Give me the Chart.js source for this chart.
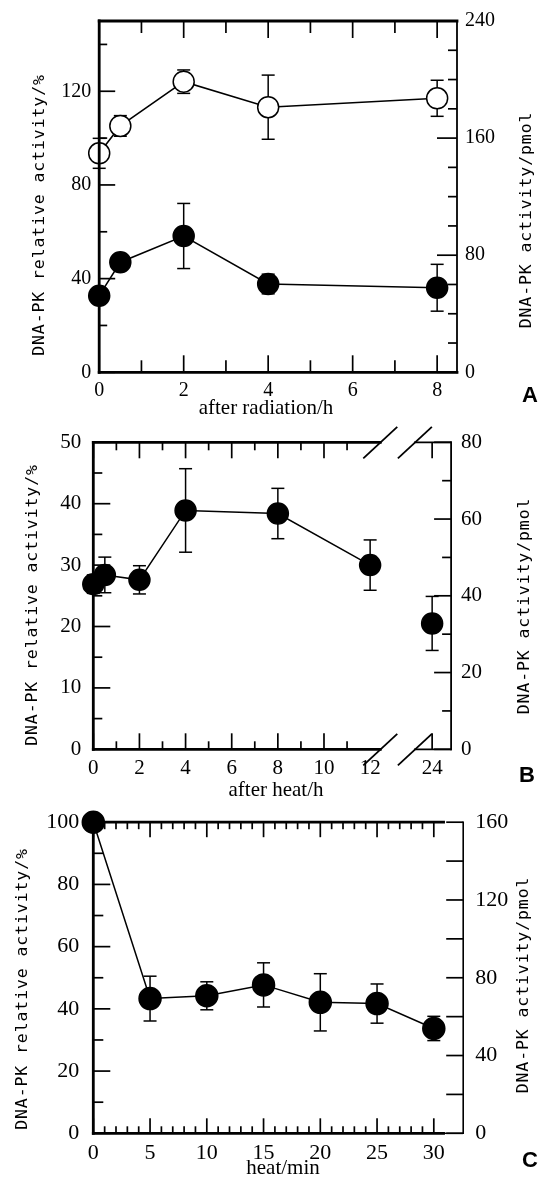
<!DOCTYPE html>
<html>
<head>
<meta charset="utf-8">
<script src="https://cdn.jsdelivr.net/npm/chart.js@4.4.1/dist/chart.umd.min.js"></script>
<style>
html, body { margin: 0; padding: 0; background: #fff; }
#wrap { position: relative; width: 542px; height: 1181px; overflow: hidden; }
canvas { position: absolute; left: 0; }
</style>
</head>
<body>
<div id="wrap">
  <canvas id="cA" width="542" height="425" style="top:0px"></canvas>
  <canvas id="cB" width="542" height="390" style="top:415px"></canvas>
  <canvas id="cC" width="542" height="386" style="top:795px"></canvas>
</div>
<script>
// ---------------- DATA ----------------
// A: after radiation (h)
const hoursA = [0, 0.5, 2, 4, 8];
const openA = [93.5, 105.2, 124.1, 113.2, 117.0];
const openErrA = [6.4, 4.4, 5.0, 13.7, 7.7];
const filledA = [32.7, 47.0, 58.2, 37.7, 36.1];
const filledErrA = [2.5, 2.5, 13.9, 4.2, 10.0];
const xTicksA = [0, 1, 2, 3, 4, 5, 6, 7, 8];
const xLabelsA = ['0', '', '2', '', '4', '', '6', '', '8'];
const yTicksA = [0, 20, 40, 60, 80, 100, 120, 140];
const yLabelsA = ['0', '', '40', '', '80', '', '120', ''];
const y2TicksA = [0, 20, 40, 60, 80, 100, 120, 140, 160, 180, 200, 220, 240];
const y2LabelsA = ['0', '', '', '', '80', '', '', '', '160', '', '', '', '240'];

// B: after heat (h), broken axis between 12 and 24
const hoursB = [0, 0.5, 2, 4, 8, 12, 24];
const valuesB = [26.9, 28.4, 27.6, 38.9, 38.4, 30.0, 20.5];
const errB = [1.5, 2.9, 2.3, 6.8, 4.1, 4.1, 4.4];
const xTicksB = [0, 1, 2, 3, 4, 5, 6, 7, 8, 9, 10, 11, 12, 24];
const xLabelsB = ['0', '', '2', '', '4', '', '6', '', '8', '', '10', '', '12', '24'];
const yTicksB = [0, 5, 10, 15, 20, 25, 30, 35, 40, 45, 50];
const yLabelsB = ['0', '', '10', '', '20', '', '30', '', '40', '', '50'];
const y2TicksB = [0, 10, 20, 30, 40, 50, 60, 70, 80];
const y2LabelsB = ['0', '', '20', '', '40', '', '60', '', '80'];

// C: heat (min)
const minutesC = [0, 5, 10, 15, 20, 25, 30];
const valuesC = [100, 43.3, 44.2, 47.7, 42.1, 41.7, 33.7];
const errC = [0, 7.2, 4.5, 7.1, 9.2, 6.3, 3.9];
const xTicksC = Array.from({ length: 31 }, (_, i) => i);
const xLabelsC = xTicksC.map(v => v % 5 === 0 ? String(v) : '');
const yTicksC = [0, 10, 20, 30, 40, 50, 60, 70, 80, 90, 100];
const yLabelsC = ['0', '', '20', '', '40', '', '60', '', '80', '', '100'];
const y2TicksC = [0, 20, 40, 60, 80, 100, 120, 140, 160];
const y2LabelsC = ['0', '', '40', '', '80', '', '120', '', '160'];

// ---------------- HELPERS ----------------
const SERIF = '"Liberation Serif", "Times New Roman", serif';
const MONO = '"DejaVu Sans Mono", monospace';
const LEFT_T = 'DNA-PK relative activity/%';
const RIGHT_T = 'DNA-PK activity/pmol';
const TITLE_FONT = '16.5px ' + MONO;
const TITLE_LS = '0.9px';
const LETTER_FONT = 'bold 22px "Liberation Sans", Arial, sans-serif';

// broken x axis: 12..24 squeezed
const brk = h => h <= 12 ? h : 12 + (h - 12) * 0.224;

function line(ctx, x1, y1, x2, y2, w) {
  ctx.lineWidth = w;
  ctx.beginPath();
  ctx.moveTo(x1, y1);
  ctx.lineTo(x2, y2);
  ctx.stroke();
}

function pts(xs, ys, map) {
  return xs.map((x, i) => ({ x: map ? map(x) : x, y: ys[i] }));
}

function series(data, err, fill, r) {
  return {
    data: data, err: err,
    borderColor: '#000', borderWidth: 1.5, tension: 0,
    pointRadius: r, pointHoverRadius: r,
    pointBackgroundColor: fill, pointBorderColor: '#000', pointBorderWidth: 1.5,
    clip: false, yAxisID: 'y'
  };
}

function framePlugin(spec) {
  return {
    id: 'frame',
    beforeDatasetsDraw(chart) {
      // error bars
      const ctx = chart.ctx, ys = chart.scales.y;
      ctx.save();
      ctx.strokeStyle = '#000';
      chart.data.datasets.forEach((ds, di) => {
        const meta = chart.getDatasetMeta(di);
        meta.data.forEach((el, i) => {
          const e = ds.err[i];
          if (!e) return;
          const v = ds.data[i].y;
          const t = ys.getPixelForValue(v + e), b = ys.getPixelForValue(v - e);
          line(ctx, el.x, t, el.x, b, 1.5);
          line(ctx, el.x - 6.5, t, el.x + 6.5, t, 1.5);
          line(ctx, el.x - 6.5, b, el.x + 6.5, b, 1.5);
        });
      });
      ctx.restore();
    },
    afterDraw(chart) {
      const ctx = chart.ctx, a = chart.chartArea;
      const { x, y, y2 } = chart.scales;
      ctx.save();
      ctx.strokeStyle = '#000';
      ctx.lineCap = 'square';
      spec.frame(ctx, a, x);

      ctx.lineCap = 'butt';
      // x ticks, top and bottom, inward
      spec.xTicks.forEach((v, i) => {
        if (spec.xSkip && spec.xSkip.includes(v)) return;
        const px = x.getPixelForValue(spec.xMap ? spec.xMap(v) : v);
        const l = spec.xLabels[i] !== '' ? spec.xLen[0] : spec.xLen[1];
        line(ctx, px, a.bottom, px, a.bottom - l, 1.7);
        line(ctx, px, a.top, px, a.top + l, 1.7);
      });
      // left y ticks
      spec.yTicks.forEach((v, i) => {
        const py = y.getPixelForValue(v);
        const l = spec.yLabels[i] !== '' ? spec.yLen[0] : spec.yLen[1];
        line(ctx, a.left, py, a.left + l, py, 1.7);
      });
      // right y ticks
      spec.y2Ticks.forEach((v, i) => {
        const py = y2.getPixelForValue(v);
        const l = spec.y2Labels[i] !== '' ? spec.y2Len[0] : spec.y2Len[1];
        line(ctx, a.right, py, a.right - l, py, 1.7);
      });

      // texts
      ctx.fillStyle = '#000';
      spec.texts.forEach(t => {
        ctx.save();
        ctx.font = t.font;
        ctx.letterSpacing = t.ls || '0px';
        ctx.textAlign = 'center';
        ctx.textBaseline = 'middle';
        ctx.translate(t.x, t.y);
        if (t.rot) ctx.rotate(t.rot);
        ctx.fillText(t.t, 0, 0);
        ctx.restore();
      });
      ctx.restore();
    }
  };
}

function panel(id, spec) {
  const tickFont = { family: SERIF, size: spec.fs };
  const yScale = (ticks, labels, max, pos, width, pad) => ({
    type: 'linear', position: pos, min: 0, max: max,
    grid: { display: false, drawTicks: false }, border: { display: false },
    afterBuildTicks: s => { s.ticks = ticks.map(v => ({ value: v })); },
    afterFit: s => { s.width = width; },
    ticks: {
      autoSkip: false, padding: pad, font: tickFont, color: '#000',
      callback: (v, i) => labels[i]
    }
  });
  return new Chart(document.getElementById(id), {
    type: 'line',
    data: { datasets: spec.datasets },
    options: {
      responsive: false, animation: false, events: [],
      layout: { padding: { top: spec.top, left: 0, right: 0, bottom: 0 } },
      plugins: { legend: { display: false }, tooltip: { enabled: false } },
      scales: {
        x: {
          type: 'linear', min: 0, max: spec.xMax,
          grid: { display: false, drawTicks: false }, border: { display: false },
          afterBuildTicks: s => { s.ticks = spec.xTicks.map(v => ({ value: spec.xMap ? spec.xMap(v) : v })); },
          afterFit: s => { s.height = spec.xH; },
          ticks: {
            autoSkip: false, maxRotation: 0, padding: spec.xPad, font: tickFont, color: '#000',
            callback: (v, i) => spec.xLabels[i]
          }
        },
        y: yScale(spec.yTicks, spec.yLabels, spec.yMax, 'left', spec.yW, spec.yPad),
        y2: yScale(spec.y2Ticks, spec.y2Labels, spec.y2Max, 'right', spec.y2W, spec.y2Pad)
      }
    },
    plugins: [framePlugin(spec)]
  });
}

// ---------------- PANEL A ----------------
panel('cA', {
  datasets: [
    series(pts(hoursA, filledA), filledErrA, '#000', 10.5),
    series(pts(hoursA, openA), openErrA, '#fff', 10.5)
  ],
  top: 21, xH: 52.7, yW: 99.2, y2W: 85, fs: 20,
  xMax: 8.47, yMax: 150, y2Max: 240, xPad: 6, yPad: 8, y2Pad: 8,
  xTicks: xTicksA, xLabels: xLabelsA, xLen: [17, 12],
  yTicks: yTicksA, yLabels: yLabelsA, yLen: [16, 8],
  y2Ticks: y2TicksA, y2Labels: y2LabelsA, y2Len: [20, 9],
  frame(ctx, a) {
    line(ctx, a.left, a.top, a.right, a.top, 2.8);
    line(ctx, a.left, a.bottom, a.right, a.bottom, 2.8);
    line(ctx, a.left, a.top, a.left, a.bottom, 2.8);
    line(ctx, a.right, a.top, a.right, a.bottom, 1.8);
  },
  texts: [
    { t: LEFT_T, x: 40, y: 215, rot: -Math.PI / 2, font: TITLE_FONT, ls: TITLE_LS },
    { t: RIGHT_T, x: 527, y: 220, rot: -Math.PI / 2, font: TITLE_FONT, ls: TITLE_LS },
    { t: 'after radiation/h', x: 266, y: 408, font: '21px ' + SERIF },
    { t: 'A', x: 530, y: 396, font: LETTER_FONT }
  ]
});

// ---------------- PANEL B ----------------
const breaksB = [12.44, 13.94];
panel('cB', {
  datasets: [
    Object.assign(series(pts(hoursB, valuesB, brk), errB, '#000', 10.5), {
      segment: { borderColor: c => c.p1.parsed.x > 12 ? 'rgba(0,0,0,0)' : '#000' }
    })
  ],
  top: 27.3, xH: 55.7, yW: 93.3, y2W: 90.9, fs: 21,
  xMax: 15.51, yMax: 50, y2Max: 80, xPad: 7, yPad: 12, y2Pad: 10,
  xTicks: xTicksB, xLabels: xLabelsB, xMap: brk, xSkip: [12], xLen: [16, 8],
  yTicks: yTicksB, yLabels: yLabelsB, yLen: [17, 9],
  y2Ticks: y2TicksB, y2Labels: y2LabelsB, y2Len: [17, 9],
  frame(ctx, a, x) {
    const b1 = x.getPixelForValue(breaksB[0]), b2 = x.getPixelForValue(breaksB[1]);
    line(ctx, a.left, a.top, a.left, a.bottom, 2.8);
    line(ctx, a.right, a.top, a.right, a.bottom, 1.8);
    [a.top, a.bottom].forEach(yy => {
      line(ctx, a.left, yy, b1, yy, 2.8);
      line(ctx, b2, yy, a.right, yy, 1.8);
      ctx.lineCap = 'butt';
      [b1, b2].forEach(bx => line(ctx, bx - 17, yy + 16, bx + 17, yy - 15.5, 1.8));
      ctx.lineCap = 'square';
    });
  },
  texts: [
    { t: LEFT_T, x: 33, y: 190, rot: -Math.PI / 2, font: TITLE_FONT, ls: TITLE_LS },
    { t: RIGHT_T, x: 525, y: 191, rot: -Math.PI / 2, font: TITLE_FONT, ls: TITLE_LS },
    { t: 'after heat/h', x: 276, y: 375, font: '21px ' + SERIF },
    { t: 'B', x: 527, y: 361, font: LETTER_FONT }
  ]
});

// ---------------- PANEL C ----------------
const plotEndC = 30.86;
panel('cC', {
  datasets: [
    series(pts(minutesC, valuesC), errC, '#000', 11)
  ],
  top: 19, xH: 47.7, yW: 93.3, y2W: 78.8, fs: 22,
  xMax: 32.59, yMax: 100, y2Max: 160, xPad: 7, yPad: 14, y2Pad: 12,
  xTicks: xTicksC, xLabels: xLabelsC, xLen: [15, 7],
  yTicks: yTicksC, yLabels: yLabelsC, yLen: [17, 10],
  y2Ticks: y2TicksC, y2Labels: y2LabelsC, y2Len: [17, 17],
  frame(ctx, a, x) {
    const e = x.getPixelForValue(plotEndC);
    line(ctx, a.left, a.top, e, a.top, 2.8);
    line(ctx, a.left, a.bottom, e, a.bottom, 2.8);
    line(ctx, a.left, a.top, a.left, a.bottom, 2.8);
    line(ctx, e, a.bottom, a.right, a.bottom, 1.4);
    line(ctx, a.right, a.top, a.right, a.bottom, 1.6);
  },
  texts: [
    { t: LEFT_T, x: 23, y: 194, rot: -Math.PI / 2, font: TITLE_FONT, ls: TITLE_LS },
    { t: RIGHT_T, x: 524, y: 190, rot: -Math.PI / 2, font: TITLE_FONT, ls: TITLE_LS },
    { t: 'heat/min', x: 283, y: 373, font: '21px ' + SERIF },
    { t: 'C', x: 530, y: 366, font: LETTER_FONT }
  ]
});
</script>
</body>
</html>
